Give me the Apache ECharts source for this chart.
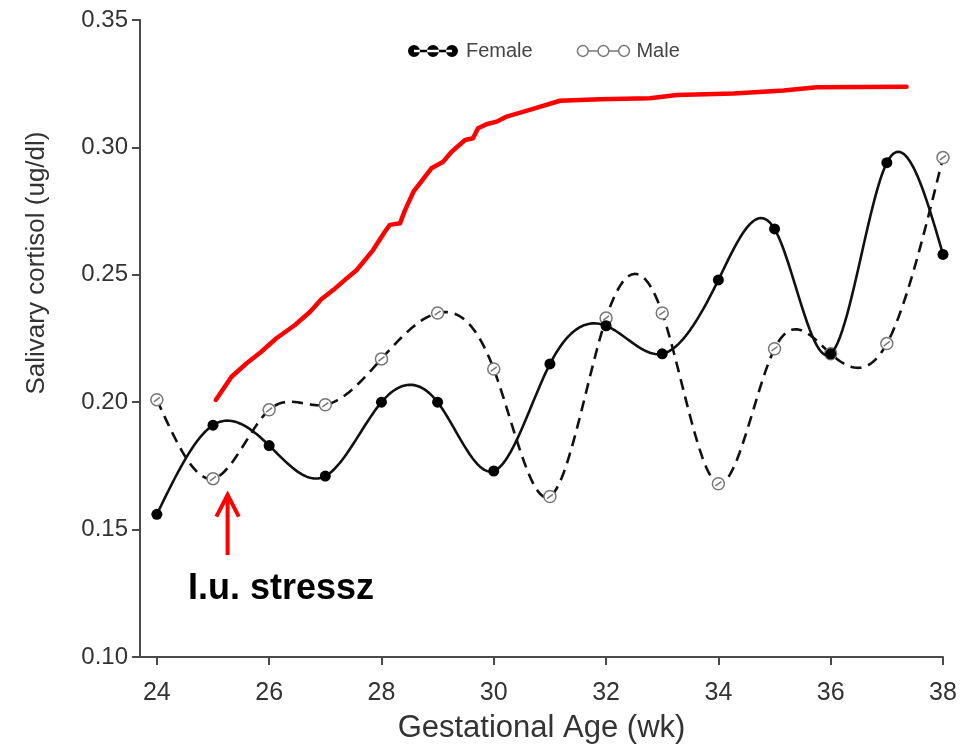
<!DOCTYPE html>
<html>
<head>
<meta charset="utf-8">
<title>Salivary cortisol by gestational age</title>
<script src="https://cdn.jsdelivr.net/npm/echarts@6/dist/echarts.min.js"></script>
<style>
  html, body { margin: 0; padding: 0; background: #ffffff; }
  #chart { width: 963px; height: 751px; }
</style>
</head>
<body>
<div id="chart"></div>
<script>
// Gestational weeks and mean salivary cortisol (ug/dl)
var weeks = [24, 25, 26, 27, 28, 29, 30, 31, 32, 33, 34, 35, 36, 37, 38];
var female = [0.156, 0.191, 0.183, 0.171, 0.200, 0.200, 0.173, 0.215, 0.230, 0.219, 0.248, 0.268, 0.219, 0.294, 0.258];
var male = [0.201, 0.170, 0.197, 0.199, 0.217, 0.235, 0.213, 0.163, 0.233, 0.235, 0.168, 0.221, 0.219, 0.223, 0.296];

// Hand-drawn red trend annotation (week, value)
var trendWeeks = [25.05, 25.33, 25.60, 25.86, 26.13, 26.46, 26.73, 26.93, 27.14, 27.35, 27.56, 27.85, 28.06, 28.15, 28.33, 28.42, 28.57, 28.89, 29.10, 29.25, 29.49, 29.63, 29.72, 29.87, 30.05, 30.23, 30.64, 31.18, 31.89, 32.78, 33.26, 34.27, 35.16, 35.75, 37.35];
var trendValues = [0.2009, 0.2100, 0.2153, 0.2198, 0.2251, 0.2303, 0.2355, 0.2404, 0.2440, 0.2480, 0.2519, 0.2597, 0.2669, 0.2696, 0.2702, 0.2754, 0.2826, 0.2918, 0.2944, 0.2983, 0.3029, 0.3036, 0.3075, 0.3091, 0.3101, 0.3121, 0.3147, 0.3183, 0.3189, 0.3193, 0.3206, 0.3212, 0.3223, 0.3236, 0.3238];

// Stress marker arrow (week, value)
var arrowShaftWeeks = [25.26, 25.26];
var arrowShaftValues = [0.140, 0.1636];
var arrowHeadWeeks = [25.06, 25.26, 25.46];
var arrowHeadValues = [0.1551, 0.1636, 0.1551];

var xTicks = [24, 26, 28, 30, 32, 34, 36, 38];
var stressLabel = 'I.u. stressz';

function pairs(xs, ys) {
  return xs.map(function (x, i) { return [x, ys[i]]; });
}

// Natural cubic spline second derivatives for the curve through (xs, ys)
function splineSecondDerivs(xs, ys) {
  var n = xs.length, M = new Array(n).fill(0);
  if (n < 3) return M;
  var a = [], b = [], c = [], d = [];
  for (var i = 1; i < n - 1; i++) {
    var h0 = xs[i] - xs[i - 1], h1 = xs[i + 1] - xs[i];
    a.push(h0); b.push(2 * (h0 + h1)); c.push(h1);
    d.push(6 * ((ys[i + 1] - ys[i]) / h1 - (ys[i] - ys[i - 1]) / h0));
  }
  var m = b.length;
  for (var k = 1; k < m; k++) {
    var w = a[k] / b[k - 1];
    b[k] -= w * c[k - 1];
    d[k] -= w * d[k - 1];
  }
  var sol = new Array(m);
  sol[m - 1] = d[m - 1] / b[m - 1];
  for (var j = m - 2; j >= 0; j--) sol[j] = (d[j] - c[j] * sol[j + 1]) / b[j];
  for (var q = 0; q < m; q++) M[q + 1] = sol[q];
  return M;
}

// Custom series renderer: draws a spline curve through a series' points on the axes
function splineRenderer(xs, ys, style) {
  var M = splineSecondDerivs(xs, ys);
  return function (params, api) {
    if (params.dataIndex !== 0) return;
    var pts = [];
    var steps = 24;
    for (var i = 0; i < xs.length - 1; i++) {
      var h = xs[i + 1] - xs[i];
      for (var s = 0; s <= steps; s++) {
        if (i > 0 && s === 0) continue;
        var t = s / steps;
        var x = xs[i] + t * h;
        var A = 1 - t, B = t;
        var y = A * ys[i] + B * ys[i + 1] + ((A * A * A - A) * M[i] + (B * B * B - B) * M[i + 1]) * h * h / 6;
        pts.push(api.coord([x, y]));
      }
    }
    return {
      type: 'polyline',
      shape: { points: pts },
      style: style,
      silent: true
    };
  };
}

var FONT = '"Liberation Sans", Arial, Helvetica, sans-serif';
var AXIS_COLOR = '#4a4a4a';
var TEXT_COLOR = '#333333';

// Symbols: open circle with a small stroke inside, and three-dot legend keys
var maleSymbol = 'path://M0,6a6,6 0 1,0 12,0a6,6 0 1,0 -12,0Z M3,8.2L9,3.8';
var femaleKey = 'path://M0,6a6,6 0 1,0 12,0a6,6 0 1,0 -12,0Z M19,6a6,6 0 1,0 12,0a6,6 0 1,0 -12,0Z M38,6a6,6 0 1,0 12,0a6,6 0 1,0 -12,0Z M6,4.8L44,4.8L44,7.2L6,7.2Z';
var maleKey = 'path://M1,6a5,5 0 1,0 10,0a5,5 0 1,0 -10,0Z M20,6a5,5 0 1,0 10,0a5,5 0 1,0 -10,0Z M39,6a5,5 0 1,0 10,0a5,5 0 1,0 -10,0Z M11,6L20,6 M30,6L39,6';

var chart = echarts.init(document.getElementById('chart'), null, { renderer: 'canvas' });

chart.setOption({
  backgroundColor: '#ffffff',
  animation: false,
  textStyle: { fontFamily: FONT },
  grid: { left: 140, right: 20, top: 20, bottom: 94, containLabel: false },
  legend: {
    left: 403,
    top: 36,
    itemWidth: 52,
    itemHeight: 12,
    itemGap: 44,
    selectedMode: false,
    textStyle: { fontFamily: FONT, fontSize: 20, color: '#444444', padding: [0, 0, 0, 2] },
    data: [
      { name: 'Female', icon: femaleKey, itemStyle: { color: '#000000', borderWidth: 0 } },
      { name: 'Male', icon: maleKey, itemStyle: { color: 'rgba(255,255,255,0)', borderColor: '#777777', borderWidth: 1.5 } }
    ]
  },
  xAxis: {
    type: 'value',
    min: 23.7,
    max: 38,
    name: 'Gestational Age (wk)',
    nameLocation: 'middle',
    nameGap: 56,
    nameTextStyle: { fontFamily: FONT, fontSize: 31, color: TEXT_COLOR },
    axisLine: { onZero: false, lineStyle: { color: AXIS_COLOR, width: 2 } },
    axisTick: { show: true, customValues: xTicks, length: 8, lineStyle: { color: AXIS_COLOR, width: 2 } },
    axisLabel: { customValues: xTicks, margin: 24, fontSize: 25, color: TEXT_COLOR, fontFamily: FONT },
    splitLine: { show: false }
  },
  yAxis: {
    type: 'value',
    min: 0.10,
    max: 0.35,
    interval: 0.05,
    axisLine: { show: true, lineStyle: { color: AXIS_COLOR, width: 2 } },
    axisTick: { show: true, length: 8, lineStyle: { color: AXIS_COLOR, width: 2 } },
    axisLabel: {
      margin: 12, fontSize: 24, color: TEXT_COLOR, fontFamily: FONT,
      formatter: function (v) { return v.toFixed(2); }
    },
    splitLine: { show: false }
  },
  graphic: [
    {
      type: 'text',
      x: 37,
      y: 263,
      rotation: Math.PI / 2,
      style: {
        text: 'Salivary cortisol (ug/dl)',
        font: '26px ' + FONT,
        fill: TEXT_COLOR,
        textAlign: 'center',
        textVerticalAlign: 'middle'
      }
    },
    {
      type: 'text',
      x: 188,
      y: 589,
      style: {
        text: stressLabel,
        font: 'bold 36px ' + FONT,
        fill: '#000000',
        textAlign: 'left',
        textVerticalAlign: 'middle'
      }
    }
  ],
  series: [
    {
      name: 'trend',
      type: 'line',
      data: pairs(trendWeeks, trendValues),
      showSymbol: false,
      symbol: 'none',
      smooth: false,
      lineStyle: { color: '#ff0000', width: 4.5, join: 'round', cap: 'round' },
      silent: true,
      z: 1
    },
    {
      name: 'arrowShaft',
      type: 'line',
      data: pairs(arrowShaftWeeks, arrowShaftValues),
      symbol: 'none',
      lineStyle: { color: '#ff0000', width: 4, cap: 'butt' },
      silent: true,
      z: 1
    },
    {
      name: 'arrowHead',
      type: 'line',
      data: pairs(arrowHeadWeeks, arrowHeadValues),
      symbol: 'none',
      lineStyle: { color: '#ff0000', width: 4, join: 'miter', cap: 'butt' },
      silent: true,
      z: 1
    },
    {
      name: 'Male curve',
      type: 'custom',
      coordinateSystem: 'cartesian2d',
      data: [[weeks[0], male[0]]],
      renderItem: splineRenderer(weeks, male, {
        stroke: '#111111', lineWidth: 2.6, fill: null, lineDash: [11, 7], lineJoin: 'round'
      }),
      silent: true,
      z: 2
    },
    {
      name: 'Male',
      type: 'line',
      data: pairs(weeks, male),
      symbol: maleSymbol,
      symbolSize: 12,
      showAllSymbol: true,
      itemStyle: { color: '#ffffff', borderColor: '#777777', borderWidth: 1.5 },
      lineStyle: { color: '#111111', width: 0, opacity: 0 },
      z: 3
    },
    {
      name: 'Female curve',
      type: 'custom',
      coordinateSystem: 'cartesian2d',
      data: [[weeks[0], female[0]]],
      renderItem: splineRenderer(weeks, female, {
        stroke: '#111111', lineWidth: 2.6, fill: null, lineJoin: 'round'
      }),
      silent: true,
      z: 4
    },
    {
      name: 'Female',
      type: 'line',
      data: pairs(weeks, female),
      symbol: 'circle',
      symbolSize: 11,
      showAllSymbol: true,
      itemStyle: { color: '#000000', borderWidth: 0 },
      lineStyle: { color: '#111111', width: 0, opacity: 0 },
      z: 5
    }
  ]
});
</script>
</body>
</html>
